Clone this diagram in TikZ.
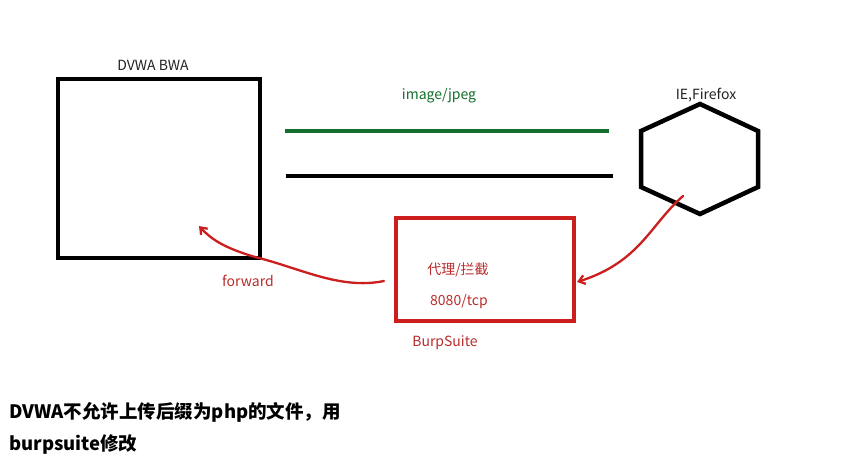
\documentclass[tikz,border=0pt]{standalone}
\usepackage{fontspec}
\setmainfont{Noto Sans CJK SC}
\usetikzlibrary{arrows.meta}
\definecolor{dgreen}{RGB}{20,110,45}
\definecolor{pred}{RGB}{205,30,30}
\definecolor{lred}{RGB}{185,45,45}
\definecolor{tgray}{RGB}{35,35,35}
\tikzset{
  blackbox/.style={draw=black,line width=4.5pt},
  redbox/.style={draw=pred,line width=4pt},
  lbl/.style={font=\fontsize{14}{16}\selectfont,inner sep=0pt},
  redlbl/.style={lbl,text=lred},
  handarrow/.style={draw=pred,line width=2.3pt,line cap=round,-{Straight Barb[length=6pt,width=9pt,line width=2.3pt]}},
  bottomtxt/.style={font=\fontsize{18.5}{20}\bfseries\selectfont,inner sep=0pt,anchor=west}
}
\begin{document}
\begin{tikzpicture}[x=1pt,y=-1pt]
\fill[white] (0,0) rectangle (846,466);
\useasboundingbox (0,0) rectangle (846,466);
% DVWA box
\draw[blackbox] (58,79) rectangle (260,258);
\node[lbl,text=tgray] (dvwa) at (153,65) {DVWA BWA};
% lines
\coordinate (g1) at (285,131);
\coordinate (g2) at (609,131);
\draw[dgreen,line width=4pt] (g1) -- (g2);
\node[lbl,text=dgreen] (img) at (439,96) {image/jpeg};
\coordinate (b1) at (286,176);
\coordinate (b2) at (613,176);
\draw[black,line width=4pt] (b1) -- (b2);
% hexagon
\coordinate (hex) at (700,159);
\draw[blackbox,line join=miter] (700,104) -- (758,131) -- (758,187) -- (700,214) -- (641,187) -- (641,131) -- cycle;
\node[lbl,text=tgray] (ie) at (706,95) {IE,Firefox};
% burp box
\draw[redbox] (396,218) rectangle (574,321);
\node[redlbl] (proxy) at (458,270) {代理/拦截};
\node[redlbl] (port) at (459,302) {8080/tcp};
\node[redlbl] (burp) at (445,343) {BurpSuite};
\node[redlbl] (fwd) at (248,281) {forward};
% curves
\coordinate (hs) at (683,196);
\coordinate (he) at (577,282);
\draw[handarrow] (hs) .. controls (650,225) and (640,262) .. (he);
\coordinate (fs) at (384,281);
\coordinate (fe) at (199,226);
\draw[handarrow] (fs) .. controls (340,290) and (300,268) .. (255,257) .. controls (225,248) and (212,240) .. (fe);
% bottom text
\node[bottomtxt] (t1) at (9,412) {DVWA不允许上传后缀为php的文件，用};
\node[bottomtxt] (t2) at (9,444) {burpsuite修改};
\end{tikzpicture}
\end{document}
